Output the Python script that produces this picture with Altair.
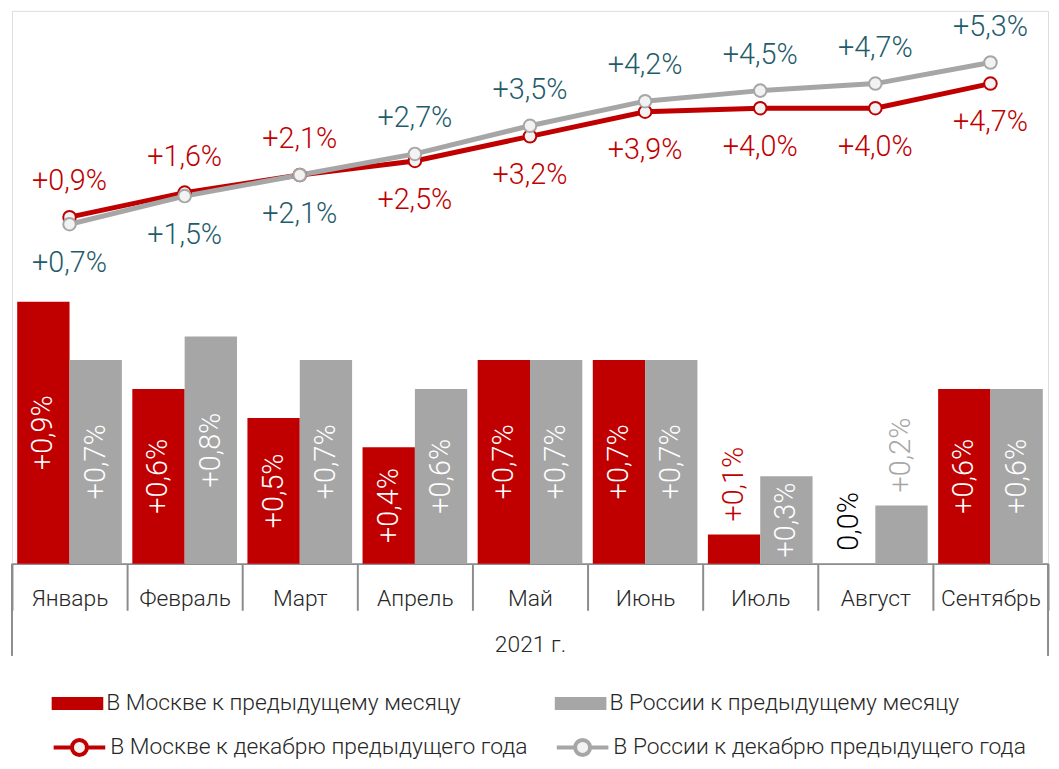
import altair as alt
import pandas as pd

# ---------------- data ----------------
months = ["Январь", "Февраль", "Март", "Апрель", "Май", "Июнь", "Июль", "Август", "Сентябрь"]
year_label = "2021 г."

bar_series = ["В Москве к предыдущему месяцу", "В России к предыдущему месяцу"]
line_series = ["В Москве к декабрю предыдущего года", "В России к декабрю предыдущего года"]

moscow_mom = [0.9, 0.6, 0.5, 0.4, 0.7, 0.7, 0.1, 0.0, 0.6]
russia_mom = [0.7, 0.78, 0.7, 0.6, 0.7, 0.7, 0.3, 0.2, 0.6]
moscow_mom_labels = ["+0,9%", "+0,6%", "+0,5%", "+0,4%", "+0,7%", "+0,7%", "+0,1%", "0,0%", "+0,6%"]
russia_mom_labels = ["+0,7%", "+0,8%", "+0,7%", "+0,6%", "+0,7%", "+0,7%", "+0,3%", "+0,2%", "+0,6%"]

moscow_ytd = [0.9, 1.6, 2.1, 2.5, 3.2, 3.9, 4.0, 4.0, 4.7]
russia_ytd = [0.7, 1.5, 2.1, 2.7, 3.5, 4.2, 4.5, 4.7, 5.3]
moscow_ytd_labels = ["+0,9%", "+1,6%", "+2,1%", "+2,5%", "+3,2%", "+3,9%", "+4,0%", "+4,0%", "+4,7%"]
russia_ytd_labels = ["+0,7%", "+1,5%", "+2,1%", "+2,7%", "+3,5%", "+4,2%", "+4,5%", "+4,7%", "+5,3%"]

# ---------------- styling ----------------
FONT = "Roboto"
WEIGHT = 300
RED = "#C00000"
GRAY = "#A6A6A6"
TEAL = "#1F5C6B"
INK = "#262626"
AXIS = "#8C8C8C"
DOT = "#F2F2F2"
PCT_SIZE = 29

W, H = 1044, 557
BAR_TOP = H / 293.3
LINE_PX = 35.43
LINE_ZERO = 239.8
LINE_DOMAIN = [-(H - LINE_ZERO) / LINE_PX, LINE_ZERO / LINE_PX]

# ---------------- tables ----------------
bar_rows = []
for i, m in enumerate(months):
    bar_rows.append(dict(month=m, series=bar_series[0], value=moscow_mom[i], label=moscow_mom_labels[i]))
    bar_rows.append(dict(month=m, series=bar_series[1], value=russia_mom[i], label=russia_mom_labels[i]))
bars_df = pd.DataFrame(bar_rows)
bars_df["mid"] = bars_df["value"] / 2
bars_df["inside"] = bars_df["value"] >= 0.25

line_rows = []
for i, m in enumerate(months):
    m_above = moscow_ytd[i] >= russia_ytd[i]
    line_rows.append(dict(month=m, series=line_series[0], value=moscow_ytd[i],
                          label=moscow_ytd_labels[i], pos="above" if m_above else "below"))
    line_rows.append(dict(month=m, series=line_series[1], value=russia_ytd[i],
                          label=russia_ytd_labels[i], pos="below" if m_above else "above"))
line_df = pd.DataFrame(line_rows)

# ---------------- encodings ----------------
x_enc = alt.X(
    "month:N", sort=months, title=year_label,
    scale=alt.Scale(paddingInner=0, paddingOuter=0),
    axis=alt.Axis(
        tickBand="extent", labelAngle=0,
        domainColor=AXIS, domainWidth=2, tickColor=AXIS, tickWidth=2, tickSize=47,
        labelPadding=-23, labelFont=FONT, labelFontSize=23, labelFontWeight=WEIGHT,
        labelColor=INK, labelLimit=200,
        titleFont=FONT, titleFontSize=23, titleFontWeight=WEIGHT, titleColor=INK,
        titlePadding=23,
    ),
)
xoff_enc = alt.XOffset("series:N", sort=bar_series,
                       scale=alt.Scale(paddingInner=0, paddingOuter=0.1))
bar_y = alt.Scale(domain=[0, BAR_TOP], nice=False, zero=True)
line_y = alt.Scale(domain=LINE_DOMAIN, nice=False, zero=False)

bars = alt.Chart(bars_df).mark_bar().encode(
    x=x_enc, xOffset=xoff_enc,
    y=alt.Y("value:Q", scale=bar_y, axis=None),
    fill=alt.Fill("series:N", sort=bar_series,
                  scale=alt.Scale(domain=bar_series, range=[RED, GRAY]),
                  legend=alt.Legend(
                      title=None, orient="none", legendX=40, legendY=685,
                      direction="horizontal", columns=2, columnPadding=94,
                      symbolType="M-1,-0.5H3V0.5H-1Z", symbolSize=676, symbolStrokeWidth=0,
                      labelFont=FONT, labelFontSize=23, labelFontWeight=WEIGHT,
                      labelColor=INK, labelOffset=29, labelLimit=600)),
)

bar_in = alt.Chart(bars_df).transform_filter("datum.inside").mark_text(
    angle=270, align="center", baseline="middle", font=FONT, fontSize=PCT_SIZE,
    fontWeight=WEIGHT, color="white"
).encode(
    x=x_enc, xOffset=xoff_enc,
    y=alt.Y("mid:Q", scale=bar_y, axis=None),
    text="label:N",
)

bar_out = alt.Chart(bars_df).transform_filter("!datum.inside").mark_text(
    angle=270, align="left", baseline="middle", font=FONT, fontSize=PCT_SIZE,
    fontWeight=WEIGHT, dx=13
).encode(
    x=x_enc, xOffset=xoff_enc,
    y=alt.Y("value:Q", scale=bar_y, axis=None),
    text="label:N",
    fill=alt.value(GRAY, condition=[
        {"test": "datum.value == 0", "value": "#000000"},
        {"test": f"datum.series == '{bar_series[0]}'", "value": RED},
    ]),
)

lines = alt.Chart(line_df).mark_line(
    strokeWidth=5,
    point=alt.OverlayMarkDef(filled=False, fill=DOT, size=160, strokeWidth=2, opacity=1),
).encode(
    x=x_enc,
    y=alt.Y("value:Q", scale=line_y, axis=None),
    stroke=alt.Stroke("series:N", sort=line_series,
                      scale=alt.Scale(domain=line_series, range=[RED, GRAY]),
                      legend=alt.Legend(
                          title=None, orient="none", legendX=40, legendY=727,
                          direction="horizontal", columns=2, columnPadding=21,
                          symbolType="M-1,0H0.42M1.58,0H3M1.58,0A0.58,0.58,0,1,1,0.42,0A0.58,0.58,0,1,1,1.58,0",
                          symbolSize=676, symbolStrokeWidth=4, symbolFillColor=DOT,
                          labelFont=FONT, labelFontSize=23, labelFontWeight=WEIGHT,
                          labelColor=INK, labelOffset=29, labelLimit=600)),
)


def ytd_text(pos, dy):
    return alt.Chart(line_df).transform_filter(alt.datum.pos == pos).mark_text(
        font=FONT, fontSize=PCT_SIZE, fontWeight=WEIGHT, baseline="middle", dy=dy
    ).encode(
        x=x_enc,
        y=alt.Y("value:Q", scale=line_y, axis=None),
        text="label:N",
        fill=alt.value(TEAL, condition=[
            {"test": f"datum.series == '{line_series[0]}'", "value": RED},
        ]),
    )


edge_df = pd.DataFrame({"k": [0]})
left_edge = alt.Chart(edge_df).mark_rule(color=AXIS, strokeWidth=2).encode(
    x=alt.value(0), y=alt.value(H), y2=alt.value(H + 93))
right_edge = alt.Chart(edge_df).mark_rule(color=AXIS, strokeWidth=2).encode(
    x=alt.value(W), y=alt.value(H), y2=alt.value(H + 93))

chart = alt.layer(
    bars, bar_in, bar_out, lines, ytd_text("above", -36), ytd_text("below", 39),
    left_edge, right_edge,
).resolve_scale(y="independent").properties(
    width=W, height=H,
    padding={"left": 4, "top": 0, "right": 3, "bottom": 196},
    autosize=alt.AutoSizeParams(type="none"),
).configure_view(stroke=None).configure(font=FONT)

chart.save("out.html", embed_options={"renderer": "svg", "actions": False})
